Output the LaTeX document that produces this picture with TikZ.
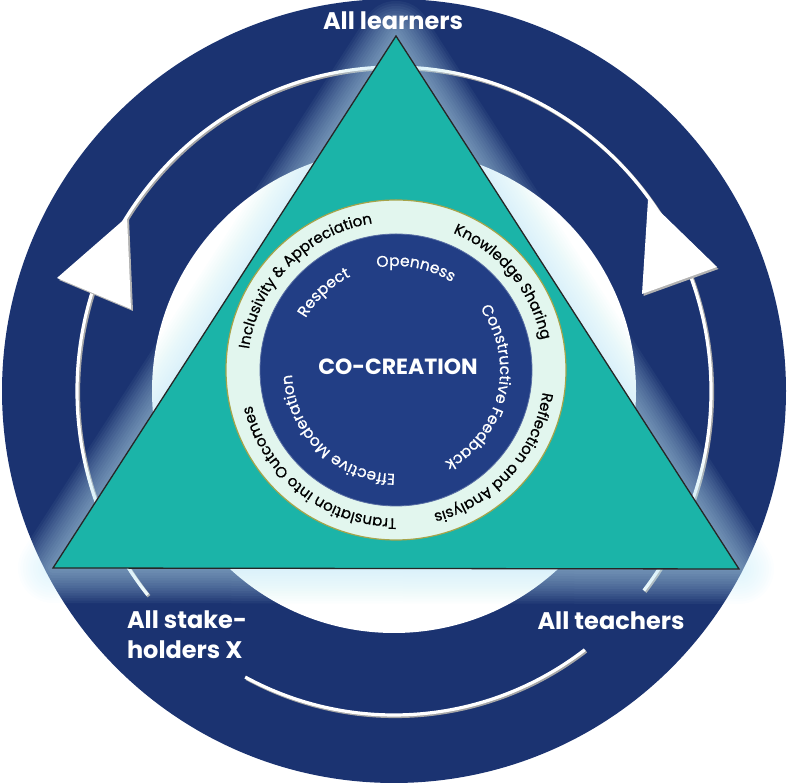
\documentclass[tikz,border=0pt]{standalone}
\usepackage{fontspec}
\setmainfont{Poppins}
\newfontfamily\ringfont{Poppins}[FakeBold=0.7]
\usetikzlibrary{decorations.text}
\definecolor{navy}{HTML}{1B3371}
\definecolor{innernavy}{HTML}{223E85}
\definecolor{tealfill}{HTML}{1BB4A8}
\definecolor{mint}{HTML}{E2F6EE}
\definecolor{olive}{HTML}{A6A44A}
\definecolor{glowc}{HTML}{C4ECFA}
\tikzset{
  lbl/.style={text=white, font=\bfseries\fontsize{24}{30}\selectfont, inner sep=0pt},
  ringline/.style={white, line width=3.2pt},
  ringshadow/.style={black!35, line width=3.6pt},
  arrowhd/.style={fill=white},
  arrowshd/.style={fill=black!30},
}
\begin{document}
\begin{tikzpicture}[x=1pt,y=1pt]
\useasboundingbox (0,0) rectangle (788,783);
\coordinate (O) at (394,392);
\coordinate (C) at (396,413);
% big ring
\fill[navy] (O) circle[radius=392];
\fill[white] (O) circle[radius=242];
% thin circular line (shadow + white)
\draw[ringshadow] ([shift={(1.3,-1.3)}]O) ++(-38:317 and 324) arc[start angle=-38, end angle=219, x radius=317, y radius=324];
\draw[ringline] (O) ++(-38:317 and 324) arc[start angle=-38, end angle=219, x radius=317, y radius=324];
\draw[ringshadow] ([shift={(1.3,-1.3)}]O) ++(242:317 and 324) arc[start angle=242, end angle=307, x radius=317, y radius=324];
\draw[ringline] (O) ++(242:317 and 324) arc[start angle=242, end angle=307, x radius=317, y radius=324];
% arrowheads
\coordinate (la1) at (127,566); \coordinate (la2) at (57,505); \coordinate (la3) at (131,474);
\coordinate (ra1) at (648,583); \coordinate (ra2) at (717,516); \coordinate (ra3) at (642,489);
\fill[arrowshd] ([shift={(2,-2)}]la1) -- ([shift={(2,-2)}]la2) -- ([shift={(2,-2)}]la3) -- cycle;
\fill[arrowhd] (la1) -- (la2) -- (la3) -- cycle;
\fill[arrowshd] ([shift={(1.5,-2)}]ra1) -- ([shift={(1.5,-2)}]ra2) -- ([shift={(1.5,-2)}]ra3) -- cycle;
\fill[arrowhd] (ra1) -- (ra2) -- (ra3) -- cycle;
% triangle with glow
\coordinate (T1) at (396,747); \coordinate (T2) at (53,215); \coordinate (T3) at (739,214);
\foreach \w in {70,65,...,5} {
  \draw[glowc, line width=\w pt, opacity=0.05, line join=round] (T1) -- (T2) -- (T3) -- cycle;
}
\draw[fill=tealfill, draw=black!85, line width=1.3pt, line join=miter] (T1) -- (T2) -- (T3) -- cycle;
% central rings
\draw[fill=mint, draw=olive, line width=1.2pt] (C) circle[radius=170];
\draw[fill=innernavy, draw=innernavy!75!white, line width=0.8pt] (C) circle[radius=136];
% outer ring texts (black)
\path[decorate, decoration={text along path, text align=center, text color=black,
  text={|\ringfont\fontsize{15}{15}\selectfont|Inclusivity {\&} Appreciation}}]
  (C) ++(220.5:148.5) arc[start angle=220.5, end angle=50.5, radius=148.5];
\path[decorate, decoration={text along path, text align=center, text color=black,
  text={|\ringfont\fontsize{15}{15}\selectfont|Knowledge Sharing}}]
  (C) ++(124.5:148.5) arc[start angle=124.5, end angle=-45.5, radius=148.5];
\path[decorate, decoration={text along path, text align=center, text color=black,
  text={|\ringfont\fontsize{15}{15}\selectfont|Reflection and Analysis}}]
  (C) ++(43:148.5) arc[start angle=43, end angle=-127, radius=148.5];
\path[decorate, decoration={text along path, text align=center, text color=black,
  text={|\ringfont\fontsize{15}{15}\selectfont|Translation into Outcomes}}]
  (C) ++(-43:148.5) arc[start angle=-43, end angle=-213, radius=148.5];
% inner texts (white)
\path[decorate, decoration={text along path, text align=center, text color=white,
  text={|\ringfont\fontsize{15.5}{15.5}\selectfont|Respect}}]
  (C) ++(218:104) arc[start angle=218, end angle=48, radius=104];
\path[decorate, decoration={text along path, text align=center, text color=white,
  text={|\ringfont\fontsize{15.5}{15.5}\selectfont|Openness}}]
  (C) ++(164:104) arc[start angle=164, end angle=-6, radius=104];
\path[decorate, decoration={text along path, text align=center, text color=white,
  text={|\ringfont\fontsize{15.5}{15.5}\selectfont|Constructive Feedback}}]
  (C) ++(72:104) arc[start angle=72, end angle=-98, radius=104];
\path[decorate, decoration={text along path, text align=center, text color=white,
  text={|\ringfont\fontsize{15.5}{15.5}\selectfont|Effective Moderation}}]
  (C) ++(-49:104) arc[start angle=-49, end angle=-219, radius=104];
% central title
\node[text=white, font=\bfseries\fontsize{22}{26}\selectfont] (cocreation) at (398,416) {CO-CREATION};
% outer labels
\node[lbl] (learners) at (393,762) {All learners};
\node[lbl, align=left] (stake) at (187,148) {All stake-\\holders X};
\node[lbl] (teachers) at (611,162) {All teachers};
\end{tikzpicture}
\end{document}
